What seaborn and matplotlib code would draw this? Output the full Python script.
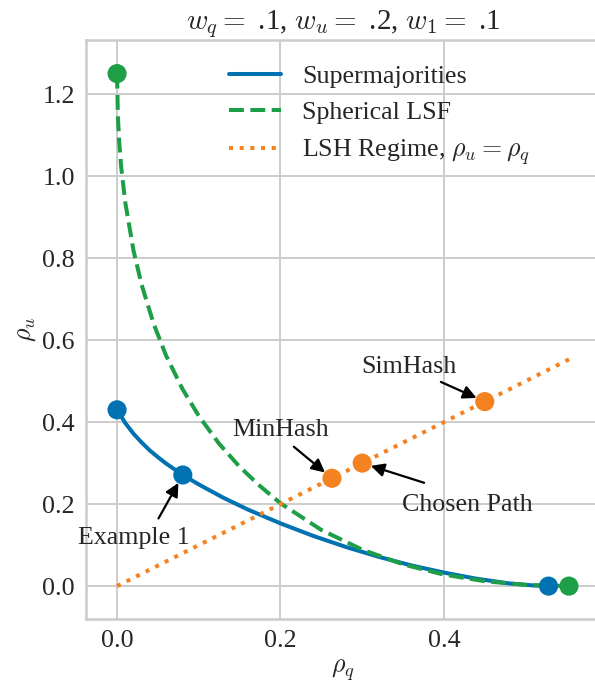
import matplotlib
matplotlib.use("Agg")
import matplotlib.pyplot as plt
import numpy as np
import pandas as pd
import seaborn as sns

# ---------------- data ----------------
super_q = [0.0, 0.01, 0.02, 0.03, 0.04, 0.05, 0.06, 0.07, 0.0805, 0.1, 0.13,
           0.16, 0.2, 0.24, 0.28, 0.32, 0.36, 0.40, 0.44, 0.48, 0.51, 0.528]
super_u = [0.43, 0.398, 0.372, 0.3505, 0.331, 0.3145, 0.299, 0.2853, 0.271,
           0.248, 0.2156, 0.1868, 0.153, 0.1225, 0.0955, 0.0715, 0.0505,
           0.033, 0.018, 0.0065, 0.0015, 0.0]

lsf_q = [0.0, 0.001, 0.0025, 0.005, 0.01, 0.02, 0.03, 0.045, 0.06, 0.08, 0.1,
         0.125, 0.15, 0.175, 0.2, 0.25, 0.3, 0.35, 0.4, 0.45, 0.5, 0.553]
lsf_u = [1.25, 1.146, 1.0875, 1.0235, 0.9364, 0.8197, 0.7355, 0.6386, 0.5622,
         0.481, 0.415, 0.347, 0.291, 0.244, 0.202, 0.137, 0.089, 0.053, 0.028,
         0.012, 0.003, 0.0]

lsh_q = [0.0, 0.553]
lsh_u = [0.0, 0.553]

super_pts_q = [0.0, 0.0805, 0.528]
super_pts_u = [0.43, 0.271, 0.0]
lsf_pts_q = [0.0, 0.553]
lsf_pts_u = [1.25, 0.0]
lsh_pts_q = [0.263, 0.30, 0.45]
lsh_pts_u = [0.263, 0.30, 0.45]

series_labels = ["Supermajorities", "Spherical LSF", r"LSH Regime, $\rho_u = \rho_q$"]
annot_labels = ["Example 1", "MinHash", "Chosen Path", "SimHash"]
title = r"$w_q =$ .1, $w_u =$ .2, $w_1 =$ .1"
xticks = [0.0, 0.2, 0.4]
yticks = [0.0, 0.2, 0.4, 0.6, 0.8, 1.0, 1.2]

# ---------------- style ----------------
sns.set_theme(style="whitegrid")
plt.rcParams["font.family"] = ["Liberation Serif", "DejaVu Serif"]
plt.rcParams["mathtext.fontset"] = "cm"
plt.rcParams["axes.edgecolor"] = "0.8"
plt.rcParams["grid.color"] = "0.8"

FS = 18.7
BLUE = "#0072b2"
GREEN = "#1f9e48"
ORANGE = "#f58220"
LW = 2.9
MS = 190

fig = plt.figure(figsize=(5.95, 6.88), dpi=100)
ax = fig.add_axes([86 / 595, 1 - 618.5 / 688, 514 / 595, 578.5 / 688])

df_s = pd.DataFrame({"q": super_q, "u": super_u})
df_l = pd.DataFrame({"q": lsf_q, "u": lsf_u})
df_h = pd.DataFrame({"q": lsh_q, "u": lsh_u})

sns.lineplot(data=df_s, x="q", y="u", ax=ax, color=BLUE, lw=LW, sort=False,
             estimator=None, label=series_labels[0])
sns.lineplot(data=df_l, x="q", y="u", ax=ax, color=GREEN, lw=LW, sort=False,
             estimator=None, linestyle="--", label=series_labels[1])
sns.lineplot(data=df_h, x="q", y="u", ax=ax, color=ORANGE, lw=LW, sort=False,
             estimator=None, linestyle=":", label=series_labels[2])

sns.scatterplot(x=super_pts_q, y=super_pts_u, ax=ax, color=BLUE, s=MS,
                edgecolor="none", zorder=5, legend=False)
sns.scatterplot(x=lsf_pts_q, y=lsf_pts_u, ax=ax, color=GREEN, s=MS,
                edgecolor="none", zorder=5, legend=False)
sns.scatterplot(x=lsh_pts_q, y=lsh_pts_u, ax=ax, color=ORANGE, s=MS,
                edgecolor="none", zorder=5, legend=False)

# annotations: (label, target point, text position, arrow tail)
annots = [
    (annot_labels[0], (super_pts_q[1], super_pts_u[1]), (0.021, 0.117), (0.0507, 0.165)),
    (annot_labels[1], (lsh_pts_q[0], lsh_pts_u[0]), (0.2006, 0.380), (0.2163, 0.340)),
    (annot_labels[2], (lsh_pts_q[1], lsh_pts_u[1]), (0.429, 0.198), (0.3758, 0.252)),
    (annot_labels[3], (lsh_pts_q[2], lsh_pts_u[2]), (0.357, 0.534), (0.3963, 0.498)),
]
for lab, tgt, tpos, tail in annots:
    ax.text(tpos[0], tpos[1], lab, ha="center", va="center", fontsize=FS, zorder=6)
    ax.annotate("", xy=tgt, xytext=tail,
                arrowprops=dict(arrowstyle="-|>", color="black", lw=1.6,
                                mutation_scale=20, shrinkA=0, shrinkB=6.5),
                zorder=6)

ax.set_xlim(-0.038, 0.591)
ax.set_ylim(-0.079, 1.332)
ax.set_xticks(xticks)
ax.set_yticks(yticks)
ax.set_xticklabels([f"{t:.1f}" for t in xticks])
ax.set_yticklabels([f"{t:.1f}" for t in yticks])
ax.tick_params(axis="both", labelsize=FS, length=0, pad=8)
ax.grid(True, color="0.8", lw=1.4)
for sp in ax.spines.values():
    sp.set_color("0.8")
    sp.set_linewidth(1.8)

ax.set_xlabel(r"$\rho_q$", fontsize=FS, labelpad=4)
ax.set_ylabel(r"$\rho_u$", fontsize=FS, labelpad=3)
ax.set_title(title, fontsize=21, pad=8)

leg = ax.legend(loc="upper left", bbox_to_anchor=(0.233, 0.997), frameon=False,
                fontsize=FS)

fig.savefig("out.png", dpi=100)
